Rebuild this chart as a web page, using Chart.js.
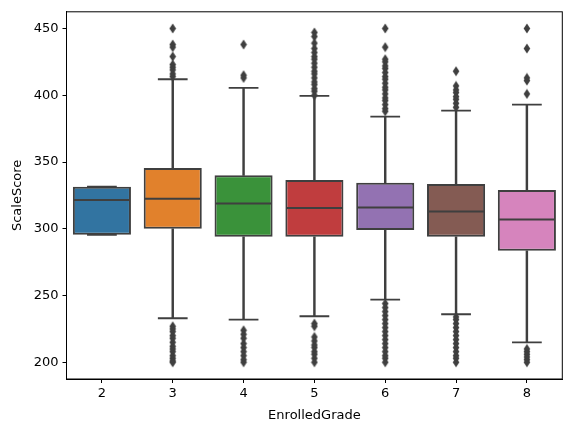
<!DOCTYPE html>
<html>
<head>
<meta charset="utf-8">
<script src="https://cdn.jsdelivr.net/npm/chart.js@4.4.1/dist/chart.umd.min.js"></script>
<style>
  html, body { margin: 0; padding: 0; background: #fff; }
  #wrap { width: 571px; height: 432px; }
</style>
</head>
<body>
<div id="wrap"><canvas id="myChart"></canvas></div>
<script>
// box plot values
const grades = ['2', '3', '4', '5', '6', '7', '8'];
const q1 = [295.5, 300, 294, 294, 299, 294, 283.5];
const medians = [321.5, 322.5, 319, 315.5, 316, 313, 307];
const q3 = [331.5, 345.5, 340, 336.5, 334.5, 333.5, 329];
const whiskerLow = [295.5, 233, 232, 234.5, 247, 236, 215];
const whiskerHigh = [331.5, 412, 405.5, 399.5, 384, 388.5, 393];
const outliers = [
  [],
  [450, 438, 436, 429, 423, 421, 419, 416, 414,
   227, 225, 223, 220, 218, 215, 212, 210, 208, 205, 203, 201, 200],
  [438, 415, 413,
   224, 221, 218, 214, 211, 208, 205, 202, 200],
  [447, 444, 439, 435, 432, 429, 427, 424, 421, 418, 416, 413, 410, 408, 405, 403, 400,
   229, 227, 219, 216, 213, 211, 208, 206, 203, 200],
  [450, 436, 427, 425, 422, 420, 417, 414, 412, 409, 406, 404, 401, 398, 396, 393, 390, 388,
   244, 241, 238, 235, 232, 229, 226, 223, 220, 217, 214, 211, 208, 205, 203, 200],
  [418, 407, 404, 402, 399, 397, 394, 391,
   234, 232, 229, 226, 223, 220, 217, 214, 211, 208, 205, 203, 200],
  [450, 435, 413, 411, 401,
   210, 208, 206, 204, 202, 200]
];
const yTicks = [200, 250, 300, 350, 400, 450];

const boxColors = ['#3274a1', '#e1812c', '#3a923a', '#c03d3e', '#9372b2', '#845b53', '#d684bd'];
const lineColor = '#3f3f3f';
const font = { family: 'DejaVu Sans', size: 13 };

// thin diamond marker like matplotlib 'd'
const diamond = document.createElement('canvas');
diamond.width = 8; diamond.height = 11;
(function () {
  const c = diamond.getContext('2d');
  c.fillStyle = lineColor;
  c.beginPath();
  c.moveTo(4, 0.5); c.lineTo(7.3, 5.5); c.lineTo(4, 10.5); c.lineTo(0.7, 5.5);
  c.closePath();
  c.fill();
})();

const flierPoints = [];
outliers.forEach(function (vals, i) {
  vals.forEach(function (v) { flierPoints.push({ x: grades[i], y: v }); });
});

// medians, caps and the frame drawn through the chart scales
const boxExtras = {
  id: 'boxExtras',
  afterDatasetsDraw(chart) {
    const ctx = chart.ctx;
    const xs = chart.scales.x, ys = chart.scales.y;
    const step = xs.getPixelForValue(1) - xs.getPixelForValue(0);
    ctx.save();
    ctx.strokeStyle = lineColor;
    for (let i = 0; i < grades.length; i++) {
      const x = xs.getPixelForValue(i);
      const y = ys.getPixelForValue(medians[i]);
      ctx.lineWidth = 2;
      ctx.beginPath();
      ctx.moveTo(x - step * 0.41 + 1, y); ctx.lineTo(x + step * 0.41 - 1, y);
      ctx.stroke();
      ctx.lineWidth = 1.8;
      ctx.beginPath();
      [whiskerLow[i], whiskerHigh[i]].forEach(function (w) {
        const yy = ys.getPixelForValue(w);
        ctx.moveTo(x - step * 0.21, yy); ctx.lineTo(x + step * 0.21, yy);
      });
      ctx.stroke();
    }
    const a = chart.chartArea;
    ctx.strokeStyle = '#000';
    ctx.lineWidth = 1;
    ctx.strokeRect(a.left, a.top, a.right - a.left, a.bottom - a.top);
    ctx.restore();
  }
};

const data = {
  labels: grades,
  datasets: [
    {
      type: 'line',
      label: 'outliers',
      data: flierPoints,
      showLine: false,
      pointStyle: diamond,
      pointRadius: 4,
      order: 0
    },
    {
      label: 'boxes',
      data: grades.map((g, i) => [q1[i], q3[i]]),
      backgroundColor: boxColors,
      borderColor: lineColor,
      borderWidth: 2,
      borderSkipped: false,
      barPercentage: 0.82,
      categoryPercentage: 1,
      grouped: false,
      order: 1
    },
    {
      label: 'lower whisker',
      data: grades.map((g, i) => [whiskerLow[i], q1[i]]),
      backgroundColor: lineColor,
      borderWidth: 0,
      barThickness: 1.8,
      grouped: false,
      order: 2
    },
    {
      label: 'upper whisker',
      data: grades.map((g, i) => [q3[i], whiskerHigh[i]]),
      backgroundColor: lineColor,
      borderWidth: 0,
      barThickness: 1.8,
      grouped: false,
      order: 2
    }
  ]
};

const config = {
  type: 'bar',
  data,
  options: {
    responsive: true,
    maintainAspectRatio: false,
    animation: false,
    layout: { padding: { top: 9, right: 8.7, left: 0, bottom: 0 } },
    plugins: { legend: { display: false }, tooltip: { enabled: false } },
    scales: {
      x: {
        offset: true,
        grid: { display: true, drawOnChartArea: false, offset: false, color: '#000', tickLength: 4 },
        border: { display: true, color: '#000', width: 1 },
        ticks: { color: '#000', font: font, padding: 3 },
        title: { display: true, text: 'EnrolledGrade', color: '#000', font: font, padding: { top: 0, bottom: 9 } },
        afterFit(scale) { scale.height = 53; }
      },
      y: {
        min: 187.5,
        max: 462.5,
        grid: { display: true, drawOnChartArea: false, color: '#000', tickLength: 4 },
        border: { display: true, color: '#000', width: 1 },
        ticks: { color: '#000', font: font, padding: 4 },
        title: { display: true, text: 'ScaleScore', color: '#000', font: font, padding: { top: 10, bottom: 0 } },
        afterBuildTicks(scale) { scale.ticks = yTicks.map(v => ({ value: v })); },
        afterFit(scale) { scale.width = 66.5; }
      }
    }
  },
  plugins: [boxExtras]
};

const myChart = new Chart(document.getElementById('myChart'), config);
</script>
</body>
</html>
